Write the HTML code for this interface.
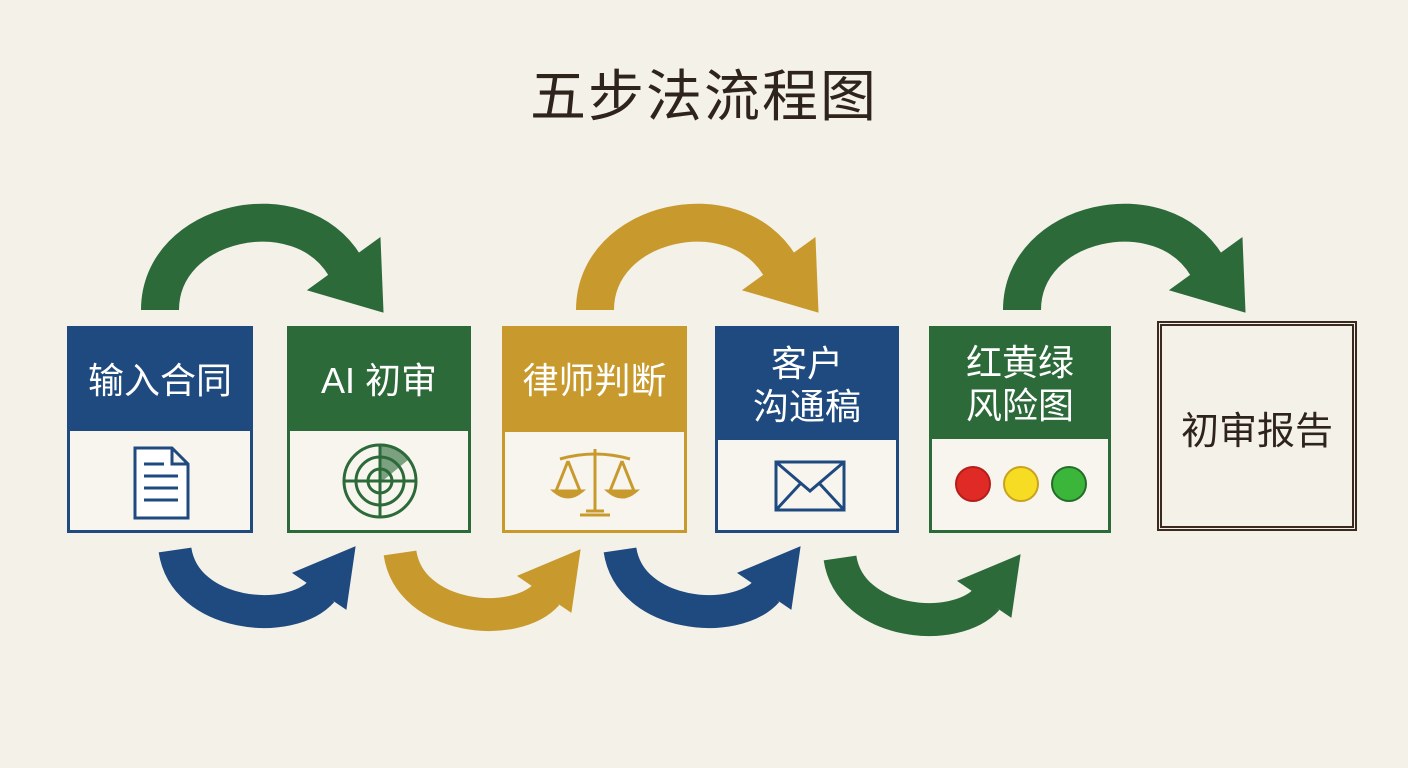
<!DOCTYPE html>
<html><head><meta charset="utf-8"><style>
html,body{margin:0;padding:0;background:#f4f1e8;}
body{width:1408px;height:768px;overflow:hidden;position:relative;font-family:"Liberation Sans","Noto Sans CJK SC",sans-serif;}
.t{position:absolute;left:0;width:1408px;top:52px;text-align:center;font-size:56px;color:#2e241c;letter-spacing:2px;}
.box{position:absolute;border:3px solid;background:#f7f5ee;box-sizing:border-box;}
.hd{position:absolute;left:0;right:0;top:0;color:#fff;display:flex;align-items:center;justify-content:center;text-align:center;font-size:36px;line-height:43px;}
</style></head><body>
<div class="t">五步法流程图</div>
<svg width="1408" height="768" style="position:absolute;left:0;top:0">
<defs>
<g id="top"><path d="M20,100 C20,10 160,-20 205,56" fill="none" stroke-width="38"/><polygon points="243,102 168,80 240,28"/></g>
<g id="bot"><path d="M15,5 C25,72 130,82 162,46" fill="none" stroke-width="33"/><polygon points="195,2 133,28 186,64"/></g>
</defs>
<use href="#top" x="140" y="210" fill="#2c6a3a" stroke="#2c6a3a"/>
<use href="#top" x="575" y="210" fill="#c89a2e" stroke="#c89a2e"/>
<use href="#top" x="1002" y="210" fill="#2c6a3a" stroke="#2c6a3a"/>
<use href="#bot" x="160" y="545" fill="#1f4a80" stroke="#1f4a80"/>
<use href="#bot" x="385" y="548" fill="#c89a2e" stroke="#c89a2e"/>
<use href="#bot" x="605" y="545" fill="#1f4a80" stroke="#1f4a80"/>
<use href="#bot" x="825" y="553" fill="#2c6a3a" stroke="#2c6a3a"/>
</svg>

<div class="box" style="left:67px;top:326px;width:186px;height:207px;border-color:#1f4a80">
<div class="hd" style="height:102px;background:#1f4a80">输入合同</div>
<svg style="position:absolute;left:60px;top:115px" width="64" height="80"><path d="M5,4 H42 L58,20 V74 H5 Z M42,4 V20 H58" fill="#fff" stroke="#1f4a80" stroke-width="3"/><g stroke="#1f4a80" stroke-width="3"><line x1="14" y1="20" x2="34" y2="20"/><line x1="14" y1="32" x2="48" y2="32"/><line x1="14" y1="44" x2="48" y2="44"/><line x1="14" y1="56" x2="48" y2="56"/></g></svg>
</div>
<div class="box" style="left:287px;top:326px;width:184px;height:207px;border-color:#2c6a3a">
<div class="hd" style="height:102px;background:#2c6a3a">AI 初审</div>
<svg style="position:absolute;left:50px;top:112px" width="80" height="80" fill="none" stroke="#2c6a3a" stroke-width="3"><circle cx="40" cy="40" r="36"/><circle cx="40" cy="40" r="24"/><circle cx="40" cy="40" r="12"/><line x1="4" y1="40" x2="76" y2="40"/><line x1="40" y1="4" x2="40" y2="76"/><path d="M40,40 L40,4 A36,36 0 0 1 68,17 Z" fill="#2c6a3a" opacity=".6"/></svg>
</div>
<div class="box" style="left:502px;top:326px;width:185px;height:207px;border-color:#c89a2e">
<div class="hd" style="height:103px;background:#c89a2e">律师判断</div>
<svg style="position:absolute;left:45px;top:112px" width="90" height="80" fill="none" stroke="#c89a2e" stroke-width="3"><line x1="45" y1="8" x2="45" y2="70"/><path d="M10,18 Q45,8 80,18"/><path d="M30,74 H60 M36,70 H54"/><path d="M18,20 L6,50 M18,20 L30,50 M72,20 L60,50 M72,20 L84,50"/><path d="M4,50 Q18,62 32,50 Z M58,50 Q72,62 86,50 Z" fill="#c89a2e"/></svg>
</div>
<div class="box" style="left:715px;top:326px;width:184px;height:207px;border-color:#1f4a80">
<div class="hd" style="height:111px;background:#1f4a80">客户<br>沟通稿</div>
<svg style="position:absolute;left:55px;top:130px" width="74" height="56" fill="none" stroke="#1f4a80" stroke-width="3"><rect x="3" y="3" width="68" height="48"/><path d="M3,3 L37,32 L71,3 M3,51 L28,24 M71,51 L46,24"/></svg>
</div>
<div class="box" style="left:929px;top:326px;width:182px;height:207px;border-color:#2c6a3a">
<div class="hd" style="height:110px;background:#2c6a3a">红黄绿<br>风险图</div>
<svg style="position:absolute;left:20px;top:135px" width="140" height="40"><circle cx="21" cy="20" r="17" fill="#e02a25" stroke="#b41e1a" stroke-width="2"/><circle cx="69" cy="20" r="17" fill="#f6dc23" stroke="#c9a21e" stroke-width="2"/><circle cx="117" cy="20" r="17" fill="#3bb53a" stroke="#236c2a" stroke-width="2"/></svg>
</div>
<div class="box" style="left:1157px;top:321px;width:200px;height:210px;border:5px double #3a2a20;background:transparent">
<div style="position:absolute;left:0;right:0;top:74px;text-align:center;font-size:38px;color:#2e241c">初审报告</div>
</div>
</body></html>
